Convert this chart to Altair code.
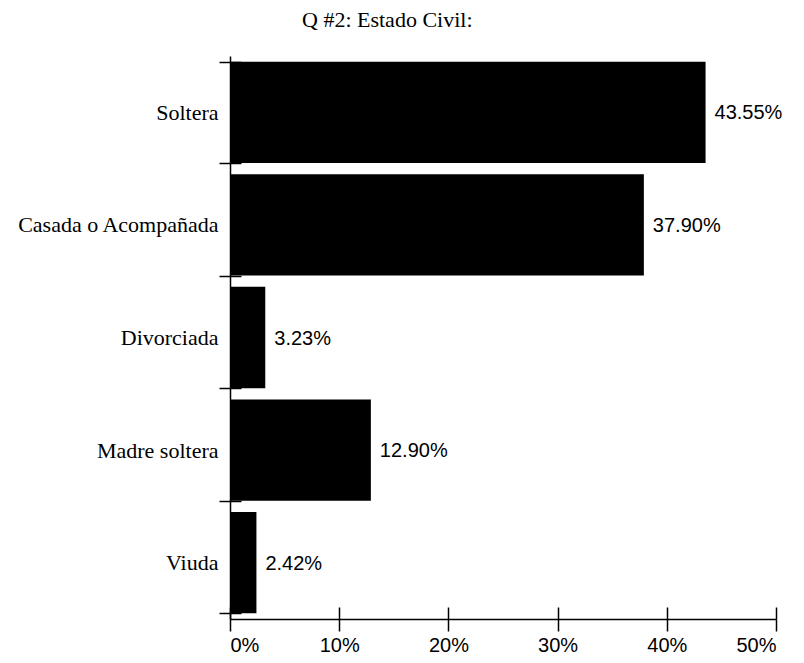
import altair as alt
import pandas as pd

categories = ["Soltera", "Casada o Acompañada", "Divorciada", "Madre soltera", "Viuda"]
values = [43.55, 37.90, 3.23, 12.90, 2.42]
x_ticks = [0, 10, 20, 30, 40, 50]
title_text = "Q #2: Estado Civil:"

df = pd.DataFrame({"cat": categories, "val": values})

SERIF = "Liberation Serif"
SANS = "Liberation Sans"

y_scale = alt.Scale(domain=categories, paddingInner=0.1, paddingOuter=0.05)
x_scale = alt.Scale(domain=[0, 50], nice=False)

bars = alt.Chart(df).mark_bar(color="black").encode(
    x=alt.X("val:Q", scale=x_scale,
            axis=alt.Axis(values=x_ticks, labelExpr="datum.value + '%'", title=None, grid=False,
                          orient="bottom", domainColor="black", domainWidth=1.5,
                          tickColor="black", tickWidth=1.5, tickSize=12,
                          labelFont=SANS, labelFontSize=20, labelColor="black",
                          labelPadding=4, zindex=1)),
    y=alt.Y("cat:N", scale=y_scale,
            axis=alt.Axis(title=None, orient="left", tickBand="extent",
                          domainColor="black", domainWidth=1.5,
                          tickColor="black", tickWidth=1.5, tickSize=11,
                          labelFont=SERIF, labelFontSize=22, labelColor="black",
                          labelPadding=1, labelLimit=400, zindex=1)),
)

text = alt.Chart(df).transform_calculate(
    label="format(datum.val, '.2f') + '%'"
).mark_text(align="left", baseline="middle", dx=9, dy=1, font=SANS, fontSize=20,
            color="black").encode(
    x=alt.X("val:Q", scale=x_scale,
            axis=alt.Axis(values=x_ticks, orient="bottom", offset=-12, domain=False,
                          labels=False, tickSize=12, tickColor="black", tickWidth=1.5,
                          grid=False, title=None, zindex=1)),
    y=alt.Y("cat:N", scale=y_scale,
            axis=alt.Axis(orient="left", offset=-11, domain=False, labels=False,
                          tickSize=11, tickBand="extent", tickColor="black",
                          tickWidth=1.5, title=None, zindex=1)),
    text="label:N",
)

chart = alt.layer(bars, text).resolve_axis(x="independent", y="independent").properties(
    width=546,
    height=563,
    title=alt.TitleParams(title_text, font=SERIF, fontSize=22, fontWeight="normal",
                          color="black", anchor="start", frame="group", dx=72, offset=13),
    autosize=alt.AutoSizeParams(type="none"),
    padding={"left": 222, "top": 48, "right": 20, "bottom": 36},
    background="white",
).configure_view(stroke=None)

chart.save("out.html", embed_options={"renderer": "svg", "actions": False})
